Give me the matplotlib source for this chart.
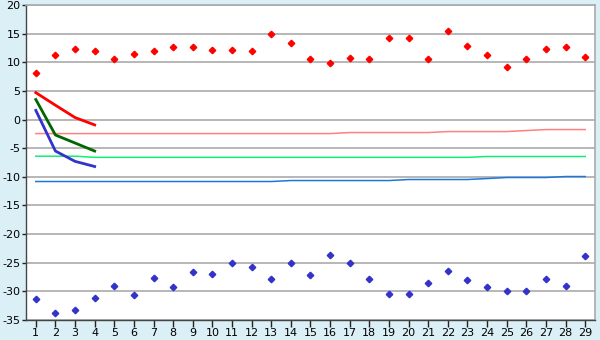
import matplotlib.pyplot as plt

cats = list(range(1, 30))

upper_pts = [8.2, 11.2, 12.4, 11.9, 10.5, 11.5, 11.9, 12.6, 12.7, 12.2,
             12.2, 12.0, 15.0, 13.4, 10.6, 9.8, 10.8, 10.6, 14.3, 14.3,
             10.6, 15.4, 12.9, 11.2, 9.1, 10.6, 12.4, 12.7, 11.0]
lower_pts = [-31.4, -33.7, -33.2, -31.1, -29.0, -30.7, -27.7, -29.3, -26.7, -26.9,
             -25.1, -25.8, -27.9, -25.0, -27.1, -23.7, -25.0, -27.9, -30.4, -30.4,
             -28.6, -26.4, -28.1, -29.3, -30.0, -30.0, -27.9, -29.0, -23.9]

short_x = [1, 2, 3, 4]
red_line = [4.7, 2.5, 0.35, -0.94]
green_line = [3.5, -2.7, -4.1, -5.5]
blue_line = [1.6, -5.5, -7.3, -8.2]

pink_level = [-2.45] * 16 + [-2.27] * 5 + [-2.1] * 4 + [-1.92] + [-1.75] * 3
green_level = [-6.4] * 3 + [-6.6] * 20 + [-6.45] * 6
blue_level = [-10.82] * 13 + [-10.65] * 6 + [-10.47] * 4 + [-10.3] + [-10.12] * 3 + [-9.95] * 2

yticks = list(range(-35, 21, 5))

plt.rcParams['axes.unicode_minus'] = False

fig = plt.figure(figsize=(6, 3.4), dpi=100)
fig.patch.set_facecolor('#daeff6')
ax = fig.add_axes([26 / 600, 20 / 340, 569 / 600, 315 / 340])
ax.set_facecolor('white')

ax.plot(cats, pink_level, color='#ff8080', lw=1.1)
ax.plot(cats, green_level, color='#11ee77', lw=1.1)
ax.plot(cats, blue_level, color='#1a78dd', lw=1.1)

ax.plot(short_x, red_line, color='#ff0000', lw=2.0)
ax.plot(short_x, green_line, color='#006600', lw=2.0)
ax.plot(short_x, blue_line, color='#3333cc', lw=2.0)

ax.plot(cats, upper_pts, 'D', color='#ff0000', ms=3.3, ls='none')
ax.plot(cats, lower_pts, 'D', color='#3333cc', ms=3.3, ls='none')

ax.set_xlim(0.5, 29.5)
ax.set_ylim(-35, 20)
ax.set_xticks(cats)
ax.set_yticks(yticks)
ax.set_yticklabels([str(v) for v in yticks])
ax.yaxis.grid(True, color='#aaaaaa', lw=1.2)
ax.set_axisbelow(True)
ax.tick_params(axis='x', length=5, width=1, color='#222222', labelsize=8, pad=1)
ax.tick_params(axis='y', length=3, width=1, color='#222222', labelsize=8, pad=1)

for side in ['top', 'right']:
    ax.spines[side].set_color('#aaaaaa')
    ax.spines[side].set_linewidth(1.2)
for side in ['left', 'bottom']:
    ax.spines[side].set_color('#444444')
    ax.spines[side].set_linewidth(1.0)

fig.savefig('out.png', dpi=100, facecolor=fig.get_facecolor())
